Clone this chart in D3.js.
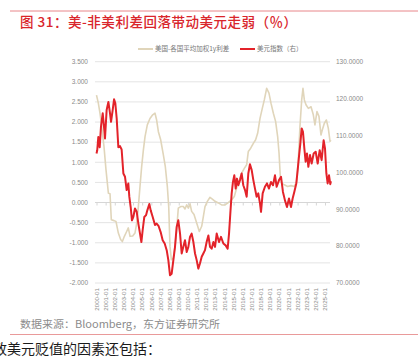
<!DOCTYPE html>
<html><head><meta charset="utf-8">
<script src="https://cdn.jsdelivr.net/npm/d3@7"></script>
<style>html,body{margin:0;padding:0;background:#fff;overflow:hidden}svg{display:block}</style>
</head><body>
<svg id="c" width="418" height="362"></svg>
<script>
// ---- data ----
const titleText = "图 31：美-非美利差回落带动美元走弱（％）";
const legendNames = ["美国-各国平均加权1y利差", "美元指数（右）"];
const sourceText = "数据来源：Bloomberg，东方证券研究所";
const bodyText = "致美元贬值的因素还包括：";
const yearLabels = d3.range(2000, 2026).map(y => y + "-01");
const leftTicks = [3.5,3.0,2.5,2.0,1.5,1.0,0.5,0.0,-0.5,-1.0,-1.5,-2.0];
const rightTicks = [130,120,110,100,90,80,70];

// spread series: time (decimal year) and value (%)
const spreadT = [2000.0,2000.2,2000.38,2000.57,2000.82,2001.04,2001.3,2001.48,2001.62,2001.92,2002.13,2002.39,2002.64,2002.83,2003.05,2003.3,2003.48,2003.67,2003.96,2004.21,2004.4,2004.58,2004.76,2004.94,2005.13,2005.31,2005.56,2005.85,2006.15,2006.4,2006.58,2006.77,2007.02,2007.31,2007.53,2007.75,2007.9,2008.04,2008.19,2008.41,2008.59,2008.77,2008.95,2009.21,2009.5,2009.68,2009.87,2010.05,2010.23,2010.41,2010.67,2010.96,2011.25,2011.51,2011.69,2011.87,2012.13,2012.42,2012.71,2012.97,2013.33,2013.69,2014.06,2014.42,2014.79,2015.08,2015.33,2015.59,2015.88,2016.17,2016.43,2016.61,2016.87,2017.16,2017.41,2017.63,2017.89,2018.14,2018.36,2018.62,2018.87,2019.09,2019.35,2019.6,2019.82,2019.97,2020.11,2020.26,2020.55,2020.91,2021.28,2021.64,2021.9,2022.08,2022.26,2022.45,2022.59,2022.74,2022.92,2023.18,2023.47,2023.72,2023.9,2024.12,2024.34,2024.56,2024.71,2024.93,2025.15,2025.36,2025.55,2025.65];
const spreadV = [2.67,2.47,2.22,1.89,1.39,0.81,0.23,0.22,-0.43,-0.45,-0.47,-0.76,-0.92,-0.97,-0.84,-0.72,-0.63,-0.84,-0.83,-0.76,-0.51,-0.10,0.40,0.89,1.31,1.64,1.93,2.09,2.18,2.22,2.05,1.76,1.56,1.19,0.89,0.40,-0.10,-1.09,-1.42,-1.38,-1.09,-0.68,-0.14,-0.10,-0.10,-0.16,-0.06,-0.14,-0.03,-0.22,-0.30,-0.51,-0.72,-0.59,-0.35,-0.10,0.03,0.13,0.08,0.03,-0.01,-0.06,-0.06,0.00,0.07,0.15,0.36,0.52,0.73,0.85,0.94,1.27,1.35,1.47,1.56,1.72,2.09,2.34,2.55,2.84,2.72,2.47,2.22,2.01,1.64,1.23,0.65,0.48,0.44,0.40,0.42,0.40,0.52,1.06,1.89,2.55,2.84,2.55,2.43,2.34,2.38,2.18,1.93,2.26,2.14,1.68,1.81,1.97,2.05,1.85,1.52,1.55];

// dollar index series (right axis)
const dxyT = [2000.0,2000.08,2000.2,2000.35,2000.49,2000.68,2000.82,2000.93,2001.11,2001.3,2001.48,2001.59,2001.77,2001.92,2002.06,2002.21,2002.39,2002.57,2002.75,2002.94,2003.12,2003.3,2003.48,2003.59,2003.74,2003.88,2004.03,2004.21,2004.4,2004.58,2004.76,2004.91,2005.05,2005.23,2005.42,2005.56,2005.78,2005.93,2006.15,2006.4,2006.58,2006.8,2007.02,2007.24,2007.46,2007.68,2007.86,2008.04,2008.22,2008.41,2008.59,2008.77,2008.95,2009.14,2009.32,2009.5,2009.68,2009.87,2010.05,2010.23,2010.41,2010.6,2010.78,2010.96,2011.14,2011.32,2011.51,2011.69,2011.87,2012.05,2012.24,2012.42,2012.6,2012.79,2012.97,2013.15,2013.4,2013.62,2013.88,2014.13,2014.35,2014.5,2014.64,2014.79,2014.93,2015.08,2015.23,2015.37,2015.52,2015.7,2015.88,2016.06,2016.25,2016.43,2016.61,2016.79,2016.98,2017.16,2017.34,2017.52,2017.7,2017.89,2018.0,2018.18,2018.43,2018.65,2018.87,2019.09,2019.31,2019.53,2019.71,2019.97,2020.19,2020.4,2020.62,2020.84,2021.06,2021.28,2021.46,2021.64,2021.86,2022.01,2022.15,2022.3,2022.45,2022.59,2022.74,2022.88,2023.03,2023.18,2023.36,2023.54,2023.76,2023.98,2024.2,2024.42,2024.63,2024.85,2025.0,2025.15,2025.29,2025.44,2025.58,2025.65];
const dxyV = [105.1,106.0,109.6,106.8,112.4,116.0,112.4,109.2,116.9,119.1,116.0,113.7,116.9,119.8,118.7,114.6,106.8,107.1,106.2,99.7,98.8,95.2,97.0,93.4,90.6,87.0,87.9,90.2,89.3,86.1,83.4,81.1,84.3,87.9,88.4,89.7,91.4,89.7,87.9,85.7,86.1,85.4,83.8,81.6,80.7,78.9,76.2,72.1,72.5,76.2,79.8,85.2,87.0,83.4,78.0,79.8,81.6,78.4,79.8,82.5,83.4,81.1,78.0,76.2,73.9,75.3,77.1,78.0,78.9,81.1,82.9,79.8,79.3,81.1,79.8,83.4,81.1,82.5,80.7,80.2,79.3,83.4,88.8,94.3,97.4,99.2,95.6,98.3,96.5,97.9,99.7,96.5,95.2,93.4,99.7,102.2,100.6,97.9,95.6,93.4,94.3,91.5,89.3,94.3,96.1,97.0,95.6,97.4,96.5,99.2,96.1,97.9,98.8,94.7,92.4,90.6,92.9,90.6,92.9,94.7,97.0,100.6,104.2,107.8,111.9,111.0,106.5,102.9,105.1,101.5,104.7,102.4,105.1,105.6,102.4,106.0,103.3,108.7,106.5,99.7,97.0,99.2,96.8,97.6];

// ---- drawing ----
const svg = d3.select("#c");
const cjk = "'Noto Sans CJK SC','Noto Sans',sans-serif";
const x = d3.scaleLinear().domain([2000, 2025]).range([96.5, 325]);
const yL = d3.scaleLinear().domain([-2, 3.5]).range([283, 61.7]);
const yR = d3.scaleLinear().domain([70, 130]).range([283, 61.7]);
const plotL = 95, plotR = 330;

// top rule and title
svg.append("line").attr("x1", 10).attr("x2", 418).attr("y1", 11).attr("y2", 11)
  .attr("stroke", "#e8868a").attr("stroke-width", 1);
svg.append("text").attr("x", 20).attr("y", 27.3).text(titleText)
  .attr("font-family", cjk).attr("font-size", 13.5).attr("font-weight", 500).attr("fill", "#d9252b")
  .attr("textLength", 277).attr("lengthAdjust", "spacing");

// gridlines
svg.append("g").selectAll("line").data(leftTicks.filter(d => d !== 0)).join("line")
  .attr("x1", plotL).attr("x2", plotR).attr("y1", d => yL(d)).attr("y2", d => yL(d))
  .attr("stroke", "#e4e4e4").attr("stroke-width", 1);

// left axis labels
svg.append("g").selectAll("text").data(leftTicks).join("text")
  .attr("x", 88).attr("y", d => yL(d)).attr("dy", "0.35em").attr("text-anchor", "end")
  .attr("font-family", "'Liberation Sans',Arial,sans-serif").attr("font-size", 6.5).attr("fill", "#8a8a8a")
  .text(d => d3.format(".3f")(d).replace("−", "-"));
// right axis labels
svg.append("g").selectAll("text").data(rightTicks).join("text")
  .attr("x", 336).attr("y", d => yR(d)).attr("dy", "0.35em").attr("text-anchor", "start")
  .attr("font-family", "'Liberation Sans',Arial,sans-serif").attr("font-size", 6.5).attr("fill", "#8a8a8a")
  .text(d => d3.format(".4f")(d));

// x axis at zero with ticks
const xAxis = d3.axisBottom(x).tickValues(d3.range(2000, 2026)).tickSize(3).tickFormat("");
const gx = svg.append("g").attr("transform", `translate(0,${yL(0)})`).call(xAxis);
gx.select(".domain").attr("d", `M${plotL},0H${plotR}`).attr("stroke", "#d6d6d6");
gx.selectAll(".tick line").attr("stroke", "#d6d6d6");
// x labels at bottom
svg.append("g").selectAll("text").data(yearLabels).join("text")
  .attr("transform", (d, i) => `translate(${x(2000 + i)},288) rotate(-90)`)
  .attr("text-anchor", "end").attr("dy", "0.35em")
  .attr("font-family", "'Liberation Sans',Arial,sans-serif").attr("font-size", 6.2).attr("fill", "#8a8a8a")
  .text(d => d);

// lines
const spreadData = spreadT.map((t, i) => [t, spreadV[i]]);
const dxyData = dxyT.map((t, i) => [t, dxyV[i]]);
svg.append("path").datum(spreadData)
  .attr("d", d3.line().x(d => x(d[0])).y(d => yL(d[1])))
  .attr("fill", "none").attr("stroke", "#e0d5ba").attr("stroke-width", 1.6).attr("stroke-linejoin", "round");
svg.append("path").datum(dxyData)
  .attr("d", d3.line().x(d => x(d[0])).y(d => yR(d[1])))
  .attr("fill", "none").attr("stroke", "#e3232a").attr("stroke-width", 2).attr("stroke-linejoin", "round");

// legend
const legColors = ["#e0d5ba", "#e3232a"];
const legX = [138, 240];
legendNames.forEach((n, i) => {
  svg.append("line").attr("x1", legX[i]).attr("x2", legX[i] + 15).attr("y1", 49).attr("y2", 49)
    .attr("stroke", legColors[i]).attr("stroke-width", 2);
  svg.append("text").attr("x", legX[i] + 17).attr("y", 49).attr("dy", "0.35em").text(n)
    .attr("font-family", cjk).attr("font-size", 6.5).attr("fill", "#777");
});

// source and bottom
svg.append("text").attr("x", 20).attr("y", 328).text(sourceText)
  .attr("font-family", cjk).attr("font-size", 10.5).attr("fill", "#8c8c8c")
  .attr("textLength", 200).attr("lengthAdjust", "spacingAndGlyphs");
svg.append("line").attr("x1", 10).attr("x2", 418).attr("y1", 334.5).attr("y2", 334.5)
  .attr("stroke", "#e99a9a").attr("stroke-width", 1.2);
svg.append("text").attr("x", -7).attr("y", 354).text(bodyText)
  .attr("font-family", cjk).attr("font-size", 14).attr("fill", "#1a1a1a");
</script>
</body></html>
